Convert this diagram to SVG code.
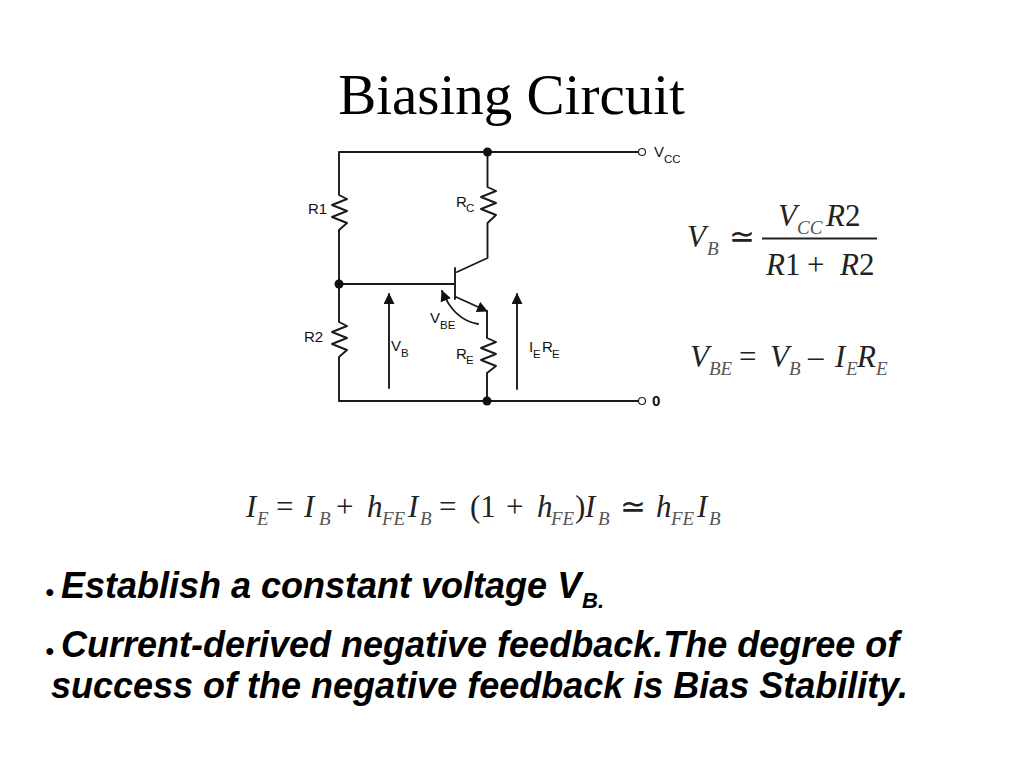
<svg xmlns="http://www.w3.org/2000/svg" width="1023" height="767" viewBox="0 0 1023 767">
<style>
.w{fill:none;stroke:#1a1a1a;stroke-width:1.9;stroke-linejoin:round;stroke-linecap:round}
.d{fill:#111}
.c{font-family:"Liberation Sans",Arial,sans-serif;fill:#111;font-size:15px}
.s{font-size:11.5px}
.e{font-family:"Liberation Serif","Times New Roman",serif;fill:#222;font-size:31px;font-style:italic}
.n{font-style:normal}
.u{font-size:19px;fill:#555}
.b{font-family:"Liberation Sans",Arial,sans-serif;font-weight:bold;font-style:italic;font-size:36px;fill:#000}
.bs{font-size:22px}
.k{font-family:"Liberation Sans",Arial,sans-serif;font-size:16px;fill:#000}
</style>
<defs>
<marker id="ah" markerUnits="userSpaceOnUse" markerWidth="12" markerHeight="12" refX="10" refY="5.5" orient="auto"><path d="M0 0L11 5.5L0 11z" fill="#111"/></marker>
</defs>
<rect width="1023" height="767" fill="#fff"/>
<text id="title" x="511.500" y="114" text-anchor="middle" font-family="Liberation Serif,Times New Roman,serif" font-size="57" fill="#000">Biasing Circuit</text>
<g id="connectors">
<path class="w" d="M638 152H339V195L347 199L332 205L347 211L332 217L347 223L339 230V284V322L347 326L332 332L347 338L332 344L347 350L339 357V401H638"/>
<path class="w" d="M339 284H455"/>
<path class="w" d="M487.500 152V187L496 191L481 197L496 203L481 209L496 215L487.500 223V258L457 272"/>
<path class="w" d="M456 297L487 311" marker-end="url(#ah)"/>
<path class="w" d="M487 311V338L496 342L481 348L496 354L481 360L496 366L487 373V401"/>
<path class="w" d="M389 388V294" marker-end="url(#ah)"/>
<path class="w" d="M517 389V294" marker-end="url(#ah)"/>
<path class="w" d="M478 324Q454 320 442 291" marker-end="url(#ah)"/>
</g>
<g id="transistor"><path class="w" d="M455 268V299"/></g>
<g id="nodes">
<circle class="d" cx="487.500" cy="152" r="4.500"/>
<circle class="d" cx="339" cy="284" r="4.500"/>
<circle class="d" cx="487" cy="401" r="4.500"/>
<circle cx="642" cy="152" r="3.500" fill="#fff" stroke="#222" stroke-width="1.2"/>
<circle cx="642" cy="401" r="3.500" fill="#fff" stroke="#222" stroke-width="1.2"/>
</g>
<g id="circuit-labels">
<text class="c" x="308" y="214">R1</text>
<text class="c" x="304" y="342">R2</text>
<text class="c" x="456" y="207">R</text><text class="c s" x="466" y="212">C</text>
<text class="c" x="456" y="359">R</text><text class="c s" x="466" y="364">E</text>
<text class="c" x="654" y="157">V</text><text class="c s" x="664" y="163">CC</text>
<text class="c" x="391" y="351">V</text><text class="c s" x="401" y="357">B</text>
<text class="c" x="430" y="323">V</text><text class="c s" x="440" y="329">BE</text>
<text class="c" x="529" y="352">I</text><text class="c s" x="533" y="358">E</text><text class="c" x="542" y="352">R</text><text class="c s" x="552" y="358">E</text>
<text class="c" x="652" y="406" font-weight="bold">0</text>
</g>
<g id="eq-vb">
<text class="e" x="687" y="247">V</text><text class="e u" x="707" y="255">B</text>
<text class="e n" x="729" y="247">≃</text>
<path d="M762 238.500H877" stroke="#222" stroke-width="1.800"/>
<text class="e" x="778" y="226">V</text><text class="e u" x="797" y="234">CC</text><text class="e" x="826" y="226">R<tspan class="n">2</tspan></text>
<text class="e" x="766" y="275">R<tspan class="n">1</tspan></text><text class="e n" x="807" y="275">+</text><text class="e" x="840" y="275">R<tspan class="n">2</tspan></text>
</g>
<g id="eq-vbe">
<text class="e" x="690" y="367">V</text><text class="e u" x="709" y="375">BE</text>
<text class="e n" x="739" y="367">=</text>
<text class="e" x="770" y="367">V</text><text class="e u" x="789" y="375">B</text>
<text class="e n" x="808" y="367">–</text>
<text class="e" x="835" y="367">I</text><text class="e u" x="846" y="375">E</text>
<text class="e" x="857" y="367">R</text><text class="e u" x="876" y="375">E</text>
</g>
<g id="eq-ie">
<text class="e" x="246" y="517">I</text><text class="e u" x="257" y="525">E</text>
<text class="e n" x="276" y="517">=</text>
<text class="e" x="304" y="517">I</text><text class="e u" x="319" y="525">B</text>
<text class="e n" x="336" y="517">+</text>
<text class="e" x="367" y="517">h</text><text class="e u" x="382" y="525">FE</text>
<text class="e" x="408" y="517">I</text><text class="e u" x="420" y="525">B</text>
<text class="e n" x="439" y="517">=</text>
<text class="e n" x="470" y="517">(1</text>
<text class="e n" x="506" y="517">+</text>
<text class="e" x="537" y="517">h</text><text class="e u" x="551" y="525">FE</text>
<text class="e n" x="575" y="517">)</text>
<text class="e" x="585" y="517">I</text><text class="e u" x="598" y="525">B</text>
<text class="e n" x="620" y="517">≃</text>
<text class="e" x="656" y="517">h</text><text class="e u" x="671" y="525">FE</text>
<text class="e" x="697" y="517">I</text><text class="e u" x="709" y="525">B</text>
</g>
<g id="bullets">
<text class="k" x="45" y="597">●</text>
<text class="b" x="61" y="598">Establish a constant voltage V</text>
<text class="b bs" x="582" y="608">B.</text>
<text class="k" x="45" y="656">●</text>
<text class="b" x="61" y="657">Current-derived negative feedback.The degree of</text>
<text class="b" x="51" y="698">success of the negative feedback is Bias Stability.</text>
</g>
</svg>
